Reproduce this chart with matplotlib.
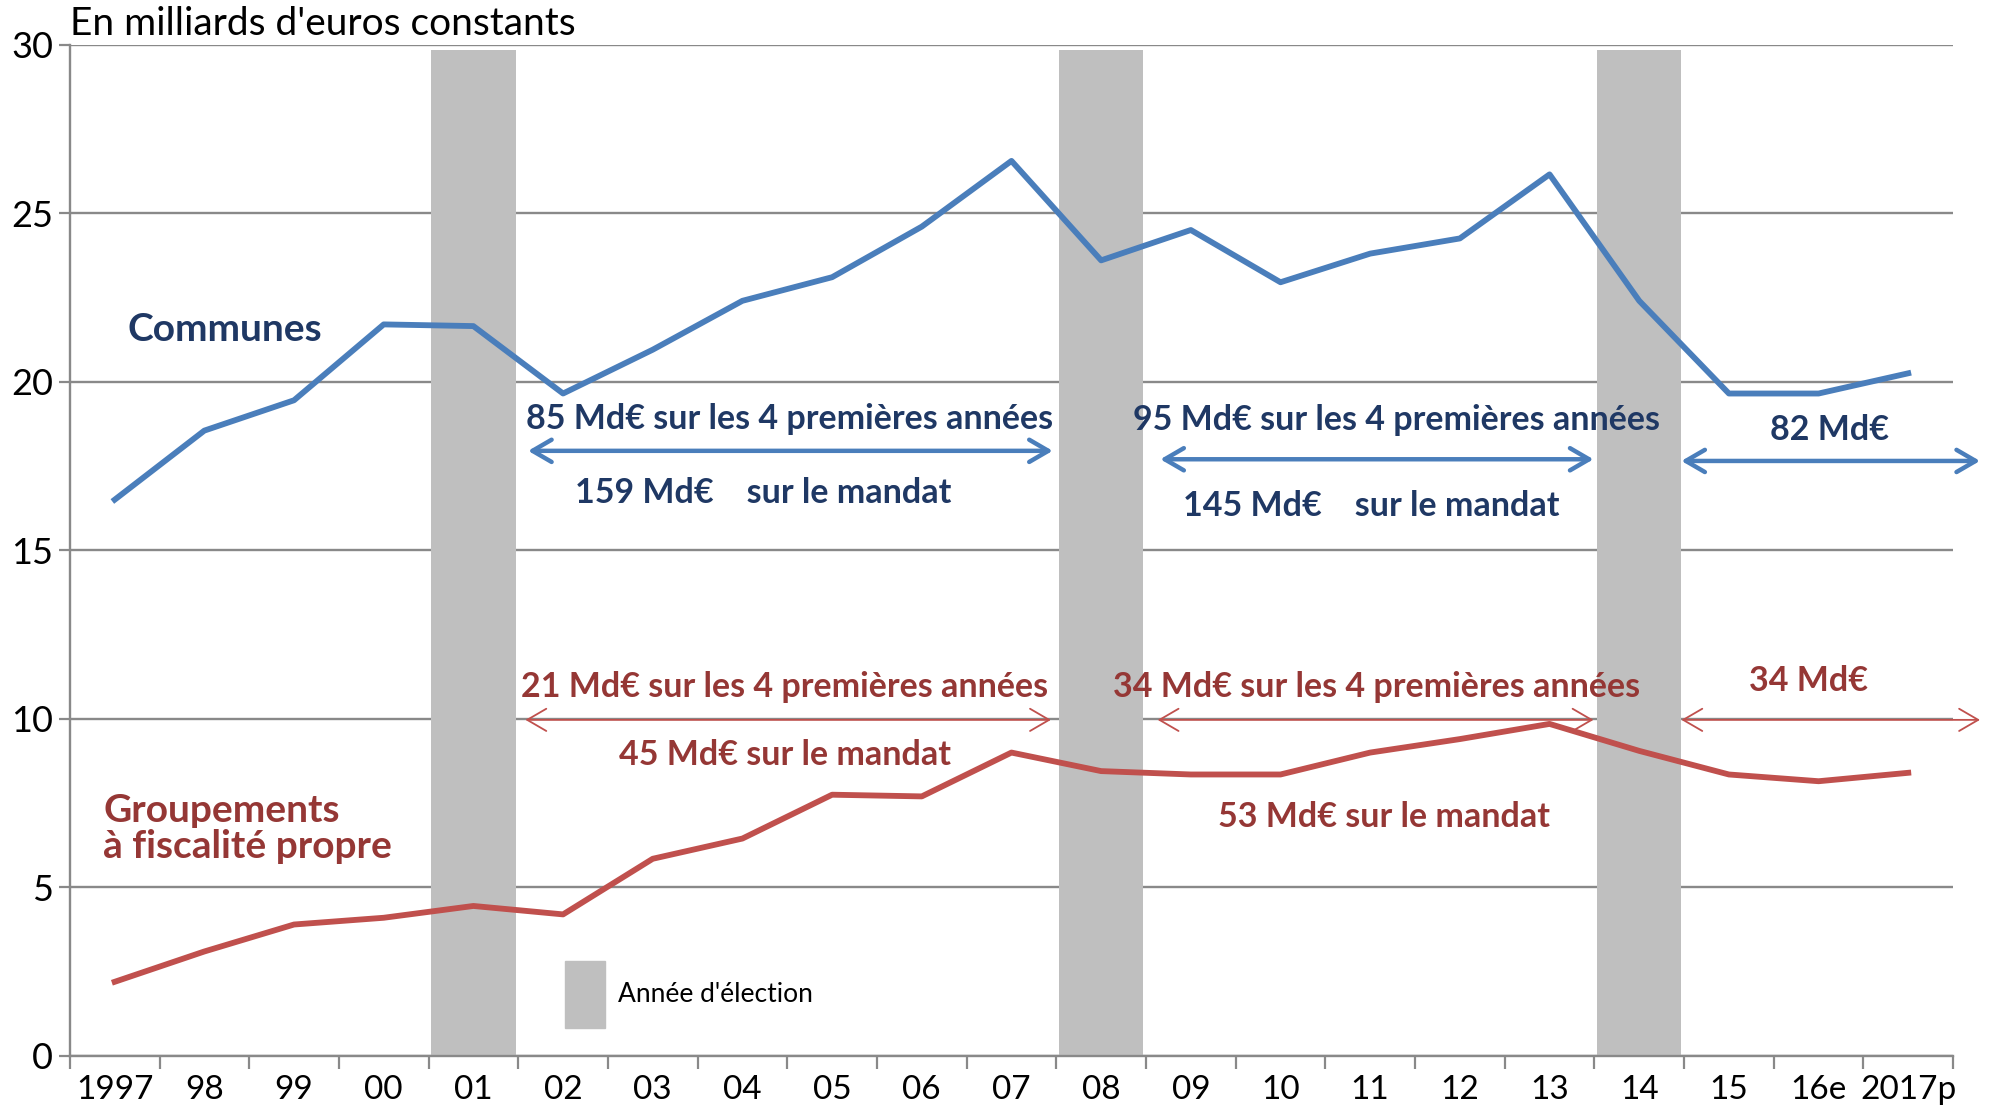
import matplotlib.pyplot as plt
from matplotlib.patches import Patch

# Données (milliards d'euros constants)
annees = ['1997', '98', '99', '00', '01', '02', '03', '04', '05', '06', '07',
          '08', '09', '10', '11', '12', '13', '14', '15', '16e', '2017p']
communes = [16.5, 18.55, 19.45, 21.7, 21.65, 19.65, 20.95, 22.4, 23.1, 24.6, 26.55,
            23.6, 24.5, 22.95, 23.8, 24.25, 26.15, 22.4, 19.65, 19.65, 20.25]
groupements = [2.2, 3.1, 3.9, 4.1, 4.45, 4.2, 5.85, 6.45, 7.75, 7.7, 9.0,
               8.45, 8.35, 8.35, 9.0, 9.4, 9.85, 9.05, 8.35, 8.15, 8.4]
elections = ['01', '08', '14']

# montants par mandat
textes_communes = ['85 Md€ sur les 4 premières années', '159 Md€    sur le mandat',
                   '95 Md€ sur les 4 premières années', '145 Md€    sur le mandat',
                   '82 Md€']
textes_groupements = ['21 Md€ sur les 4 premières années', '45 Md€ sur le mandat',
                      '34 Md€ sur les 4 premières années', '53 Md€ sur le mandat',
                      '34 Md€']

BLEU = '#4A7EBB'
ROUGE = '#C0504D'
BLEU_TXT = '#1F3864'
ROUGE_TXT = '#953735'
GRIS = '#BFBFBF'
GRILLE = '#898989'

plt.rcParams['font.family'] = ['Lato', 'DejaVu Sans']

fig = plt.figure(figsize=(19.95, 11.09), dpi=100)
ax = fig.add_axes([0.035, 0.0478, 0.944, 0.912])

x = list(range(len(annees)))

# barres des années d'élection
idx_elec = [annees.index(a) for a in elections]
ax.bar(idx_elec, [29.85] * len(idx_elec), width=0.94, color=GRIS, zorder=2)

# courbes
ax.plot(x, communes, color=BLEU, lw=4.2, zorder=3)
ax.plot(x, groupements, color=ROUGE, lw=4.2, zorder=3)

# axes
ax.set_xlim(-0.5, len(annees) - 0.5)
ax.set_ylim(0, 30)
ax.set_yticks(range(0, 31, 5))
ax.set_xticks(x)
ax.set_xticklabels(annees)
ax.set_xticks([i - 0.5 for i in range(len(annees) + 1)], minor=True)
ax.tick_params(axis='x', which='major', length=0, pad=14, labelsize=24)
ax.tick_params(axis='x', which='minor', length=9, width=1.6, color=GRILLE)
ax.tick_params(axis='y', length=8, width=1.6, color=GRILLE, labelsize=26, pad=4)
ax.grid(axis='y', color=GRILLE, lw=1.7, zorder=0)
ax.set_axisbelow(True)
for s in ['top', 'right']:
    ax.spines[s].set_visible(False)
for s in ['left', 'bottom']:
    ax.spines[s].set_color(GRILLE)
    ax.spines[s].set_linewidth(1.7)

# titre
ax.text(0, 1.003, "En milliards d'euros constants", transform=ax.transAxes,
        fontsize=28, ha='left', va='bottom')

# libellés des séries
ax.text(1.23, 21.55, 'Communes', color=BLEU_TXT, fontsize=28, fontweight='bold',
        ha='center', va='center')
ax.text(-0.13, 6.75, 'Groupements\nà fiscalité propre', color=ROUGE_TXT, fontsize=28,
        fontweight='bold', ha='left', va='center', linespacing=1.05)

# flèches des mandats
def fleche(x0, x1, y, couleur, lw):
    ax.annotate('', xy=(x1, y), xytext=(x0, y),
                arrowprops=dict(arrowstyle='<->, head_length=0.55, head_width=0.32',
                                mutation_scale=25, color=couleur, lw=lw,
                                shrinkA=0, shrinkB=0),
                annotation_clip=False, zorder=4)

fleche(4.61, 10.46, 17.95, BLEU, 3.2)
fleche(11.66, 16.49, 17.7, BLEU, 3.2)
fleche(17.47, 20.8, 17.65, BLEU, 3.2)
fleche(4.58, 10.44, 9.97, ROUGE, 1.3)
fleche(11.63, 16.49, 9.97, ROUGE, 1.3)
fleche(17.47, 20.8, 9.97, ROUGE, 1.3)

kw = dict(fontsize=24.5, fontweight='bold', ha='center', va='center', zorder=5)
ax.text(7.53, 18.9, textes_communes[0], color=BLEU_TXT, **kw)
ax.text(7.23, 16.7, textes_communes[1], color=BLEU_TXT, **kw)
ax.text(14.29, 18.87, textes_communes[2], color=BLEU_TXT, **kw)
ax.text(14.01, 16.3, textes_communes[3], color=BLEU_TXT, **kw)
ax.text(19.12, 18.57, textes_communes[4], color=BLEU_TXT, **kw)
ax.text(7.47, 10.94, textes_groupements[0], color=ROUGE_TXT, **kw)
ax.text(7.47, 8.94, textes_groupements[1], color=ROUGE_TXT, **kw)
ax.text(14.07, 10.94, textes_groupements[2], color=ROUGE_TXT, **kw)
ax.text(14.15, 7.09, textes_groupements[3], color=ROUGE_TXT, **kw)
ax.text(18.89, 11.13, textes_groupements[4], color=ROUGE_TXT, **kw)

# légende
ax.legend(handles=[Patch(color=GRIS, label="Année d'élection")],
          loc='center left', bbox_to_anchor=(0.263, 0.061), frameon=False,
          fontsize=19, handlelength=1.5, handleheight=3.5, handletextpad=0.5,
          borderpad=0, borderaxespad=0)

plt.savefig('out.png', dpi=100)
